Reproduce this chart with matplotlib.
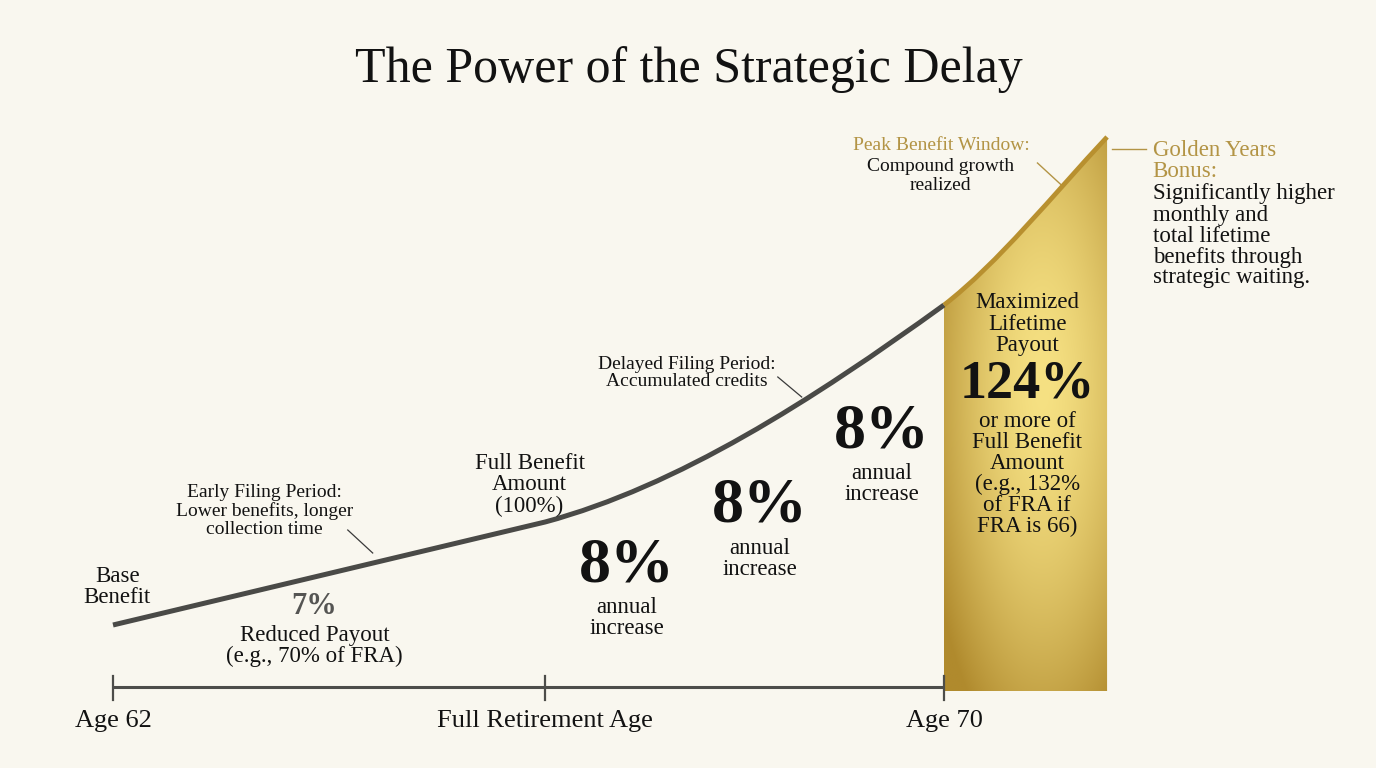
import numpy as np
import matplotlib
matplotlib.use("Agg")
import matplotlib.pyplot as plt
from matplotlib.path import Path
from matplotlib.patches import PathPatch
from matplotlib.colors import to_rgb

plt.rcParams['font.family'] = ['Liberation Serif', 'DejaVu Serif']

# schematic benefit curve: age vs relative benefit level (arbitrary units, 0 = axis)
# early filing: straight segment
early_age = [62.0, 66.16]
early_level = [63, 166]
# delayed filing: cubic bezier (start, ctrl, ctrl, end)
delay_age = [66.16, 67.44, 68.72, 70.0]
delay_level = [166, 202, 287, 383]
# peak window (top of the gold area): cubic bezier
peak_age = [70.0, 70.523, 71.047, 71.57]
peak_level = [383, 425, 493, 551]

tick_ages = [62, 66.16, 70]
tick_labels = ["Age 62", "Full Retirement Age", "Age 70"]

increase_ages = [66.95, 68.23, 69.40]
increase_levels = [122, 181, 256]
increase_pct = ["8%", "8%", "8%"]

bg = "#f9f7ef"
ink = "#121212"
curve_clr = "#4a4a47"
gold_txt = "#b39445"

C4 = [Path.MOVETO, Path.CURVE4, Path.CURVE4, Path.CURVE4]

fig = plt.figure(figsize=(13.76, 7.68), dpi=100, facecolor=bg)
ax = fig.add_axes([0, 0, 1, 1])
ax.set_facecolor(bg)
ax.set_xlim(60.912, 74.159)
ax.set_ylim(-80, 688)
ax.axis("off")

# timeline axis
ax.plot([tick_ages[0], tick_ages[-1]], [1, 1], color="#4d4d4a", lw=2.2, solid_capstyle="butt", zorder=2)
for a, lab in zip(tick_ages, tick_labels):
    ax.plot([a, a], [-12, 12], color="#4d4d4a", lw=1.6, zorder=2)
    ax.text(a, -33, lab, ha="center", va="center", fontsize=19, color=ink)

# curve
curve_path = Path(
    [(early_age[0], early_level[0]), (early_age[1], early_level[1])] + list(zip(delay_age[1:], delay_level[1:])),
    [Path.MOVETO, Path.LINETO, Path.CURVE4, Path.CURVE4, Path.CURVE4])
ax.add_patch(PathPatch(curve_path, facecolor="none", edgecolor=curve_clr, lw=3.6,
                       capstyle="butt", joinstyle="round", zorder=3))

# gold region with gradient
gold_verts = [(peak_age[0], -3)] + list(zip(peak_age, peak_level)) + [(peak_age[-1], -3), (peak_age[0], -3)]
gold_codes = [Path.MOVETO, Path.LINETO, Path.CURVE4, Path.CURVE4, Path.CURVE4, Path.LINETO, Path.CLOSEPOLY]
gold = PathPatch(Path(gold_verts, gold_codes), facecolor="none", edgecolor="none")
ax.add_patch(gold)
gx = np.linspace(0, 1, 200)
gy = np.linspace(0, 1, 600)
GX, GY = np.meshgrid(gx, gy)
t = np.sqrt(((GX - 0.6) / 0.75) ** 2 + ((GY - 0.55) / 0.7) ** 2)
t = np.clip(t, 0, 1) ** 1.6
bright = np.array(to_rgb("#f6e183"))
dark = np.array(to_rgb("#b08a2d"))
img = bright[None, None, :] * (1 - t[..., None]) + dark[None, None, :] * t[..., None]
im = ax.imshow(img, extent=[peak_age[0], peak_age[-1], -3, peak_level[-1]], origin="lower",
               aspect="auto", zorder=1, interpolation="bilinear")
im.set_clip_path(gold)
ax.add_patch(PathPatch(Path(list(zip(peak_age, peak_level)), C4), facecolor="none",
                       edgecolor="#b8902f", lw=3.4, capstyle="butt", zorder=4))

# title
ax.text(67.54, 618, "The Power of the Strategic Delay", ha="center", va="center", fontsize=36, color=ink)

# early section
ax.text(62.04, 101, "Base\nBenefit", ha="center", va="center", fontsize=16.5, color=ink, linespacing=1.0)
ax.text(63.46, 177, "Early Filing Period:\nLower benefits, longer\ncollection time", ha="center", va="center",
        fontsize=14, color=ink, linespacing=1.05)
ax.plot([64.26, 64.50], [158, 135], color="#3a3a3a", lw=0.9)
ax.text(63.94, 81, "7%", ha="center", va="center", fontsize=22, fontweight="bold", color="#555553")
ax.text(63.94, 42, "Reduced Payout\n(e.g., 70% of FRA)", ha="center", va="center", fontsize=16.5,
        color=ink, linespacing=1.0)

ax.text(66.01, 203, "Full Benefit\nAmount\n(100%)", ha="center", va="center", fontsize=16.5,
        color=ink, linespacing=1.0)

# delayed section
for a, lv, p in zip(increase_ages, increase_levels, increase_pct):
    ax.text(a, lv, p, ha="center", va="center", fontsize=46, fontweight="bold", color=ink)
    ax.text(a, lv - 52, "annual\nincrease", ha="center", va="center", fontsize=16.5, color=ink,
            linespacing=1.0)

ax.text(67.52, 315, "Delayed Filing Period:\nAccumulated credits", ha="center", va="center",
        fontsize=14, color=ink, linespacing=1.05)
ax.plot([68.40, 68.63], [311, 291], color="#3a3a3a", lw=0.9)

# peak window
ax.text(69.97, 543, "Peak Benefit Window:", ha="center", va="center", fontsize=14, color=gold_txt)
ax.text(69.97, 512, "Compound growth\nrealized", ha="center", va="center", fontsize=14, color=ink,
        linespacing=1.1)
ax.plot([70.90, 71.13], [525, 503], color=gold_txt, lw=1.0)

# golden years bonus
ax.plot([71.62, 71.94], [539, 539], color=gold_txt, lw=1.0)
ax.text(72.01, 527, "Golden Years\nBonus:", ha="left", va="center", fontsize=16.5, color=gold_txt,
        linespacing=1.0)
ax.text(72.01, 452, "Significantly higher\nmonthly and\ntotal lifetime\nbenefits through\nstrategic waiting.",
        ha="left", va="center", fontsize=16.5, color=ink, linespacing=1.0)

# inside gold region
ax.text(70.80, 364, "Maximized\nLifetime\nPayout", ha="center", va="center", fontsize=16.5, color=ink,
        linespacing=1.0, zorder=5)
ax.text(70.80, 303, "124%", ha="center", va="center", fontsize=39, fontweight="bold", color=ink, zorder=5)
ax.text(70.80, 214, "or more of\nFull Benefit\nAmount\n(e.g., 132%\nof FRA if\nFRA is 66)", ha="center",
        va="center", fontsize=16.5, color=ink, linespacing=1.0, zorder=5)

fig.savefig("out.png", dpi=100, facecolor=bg)
